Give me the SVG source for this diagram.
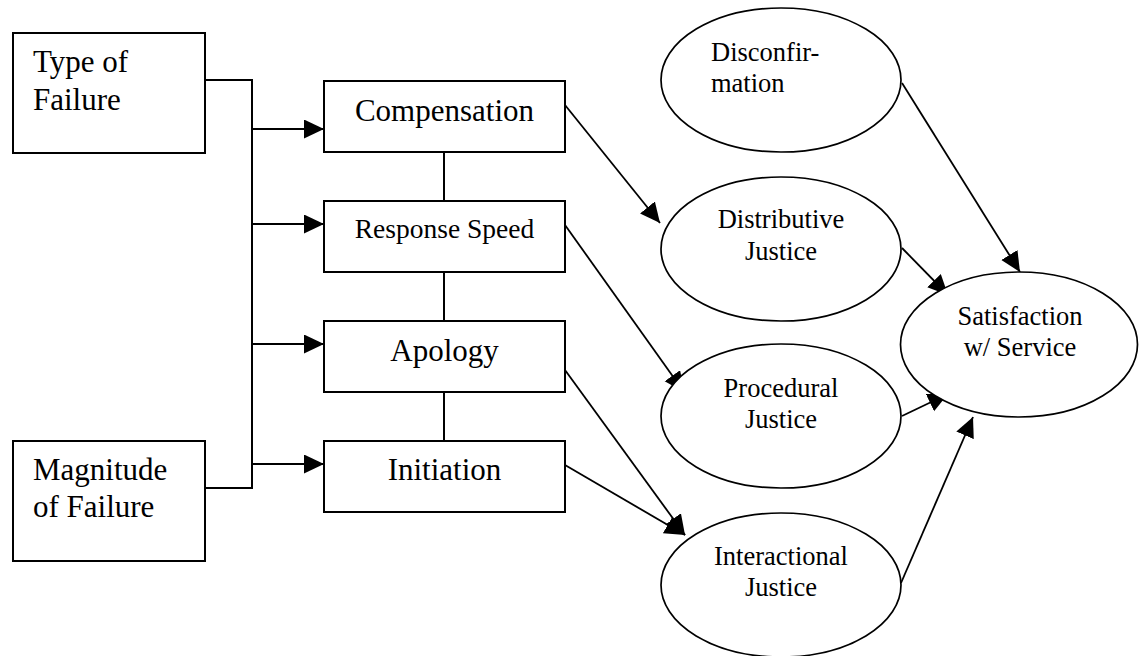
<svg xmlns="http://www.w3.org/2000/svg" width="1139" height="656" viewBox="0 0 1139 656">
  <style>
    .box { fill: #fff; stroke: #000; stroke-width: 2; }
    .ell { fill: #fff; stroke: #000; stroke-width: 1.7; }
    .wire { fill: none; stroke: #000; stroke-width: 2; }
    .arr { fill: none; stroke: #000; stroke-width: 1.8; marker-end: url(#head); }
    text { font-family: "Liberation Serif", "Times New Roman", serif; fill: #000; }
    .big { font-size: 31px; }
    .mid { font-size: 27.5px; }
    .sm { font-size: 26.5px; }
    .c { text-anchor: middle; }
  </style>
  <defs>
    <marker id="head" markerUnits="userSpaceOnUse" markerWidth="21" markerHeight="20" refX="20" refY="9.5" orient="auto">
      <path d="M0,0 L20,9.5 L0,19 Z" fill="#000"/>
    </marker>
  </defs>

  <!-- connectors -->
  <g id="connectors">
    <!-- bus from the two failure boxes -->
    <polyline class="wire" points="205,80 252,80 252,488 205,488"/>
    <line class="arr" x1="252" y1="129" x2="324" y2="129"/>
    <line class="arr" x1="252" y1="224" x2="324" y2="224"/>
    <line class="arr" x1="252" y1="344" x2="324" y2="344"/>
    <line class="arr" x1="252" y1="464" x2="324" y2="464"/>
    <!-- links between the response boxes -->
    <line class="wire" x1="444" y1="152" x2="444" y2="201"/>
    <line class="wire" x1="444" y1="272" x2="444" y2="321"/>
    <line class="wire" x1="444" y1="392" x2="444" y2="441"/>
    <!-- responses to justice -->
    <line class="arr" x1="565" y1="105" x2="660" y2="223"/>
    <line class="arr" x1="565" y1="225" x2="684" y2="392"/>
    <line class="arr" x1="565" y1="370" x2="685" y2="535"/>
    <line class="arr" x1="565" y1="465" x2="685" y2="535"/>
    <!-- into satisfaction -->
    <line class="arr" x1="902" y1="83" x2="1020" y2="272"/>
    <line class="arr" x1="902" y1="248" x2="948" y2="295"/>
    <line class="arr" x1="902" y1="416" x2="948" y2="394"/>
    <line class="arr" x1="901" y1="583" x2="973" y2="417"/>
  </g>

  <g id="type-of-failure">
    <rect class="box" x="13" y="33" width="192" height="120"/>
    <text class="big" x="33" y="72">Type of</text>
    <text class="big" x="33" y="110">Failure</text>
  </g>
  <g id="magnitude-of-failure">
    <rect class="box" x="13" y="441" width="192" height="120"/>
    <text class="big" x="33" y="480">Magnitude</text>
    <text class="big" x="33" y="517">of Failure</text>
  </g>

  <g id="compensation">
    <rect class="box" x="324" y="81" width="241" height="71"/>
    <text class="big c" x="444.5" y="121">Compensation</text>
  </g>
  <g id="response-speed">
    <rect class="box" x="324" y="201" width="241" height="71"/>
    <text class="mid c" x="444.5" y="238">Response Speed</text>
  </g>
  <g id="apology">
    <rect class="box" x="324" y="321" width="241" height="71"/>
    <text class="big c" x="444.5" y="361">Apology</text>
  </g>
  <g id="initiation">
    <rect class="box" x="324" y="441" width="241" height="71"/>
    <text class="big c" x="444.5" y="480">Initiation</text>
  </g>

  <g id="disconfirmation">
    <ellipse class="ell" cx="781" cy="80" rx="120" ry="72"/>
    <text class="sm" x="711" y="61">Disconfir-</text>
    <text class="sm" x="711" y="92">mation</text>
  </g>
  <g id="distributive-justice">
    <ellipse class="ell" cx="781" cy="249" rx="120" ry="72"/>
    <text class="sm c" x="781" y="228">Distributive</text>
    <text class="sm c" x="781" y="260">Justice</text>
  </g>
  <g id="procedural-justice">
    <ellipse class="ell" cx="781" cy="416" rx="120" ry="72"/>
    <text class="sm c" x="781" y="397">Procedural</text>
    <text class="sm c" x="781" y="428">Justice</text>
  </g>
  <g id="interactional-justice">
    <ellipse class="ell" cx="781" cy="585" rx="120" ry="72"/>
    <text class="sm c" x="781" y="565">Interactional</text>
    <text class="sm c" x="781" y="596">Justice</text>
  </g>
  <g id="satisfaction">
    <ellipse class="ell" cx="1019" cy="344.5" rx="118.5" ry="72.5"/>
    <text class="sm c" x="1020" y="325">Satisfaction</text>
    <text class="sm c" x="1020" y="356">w/ Service</text>
  </g>
</svg>
